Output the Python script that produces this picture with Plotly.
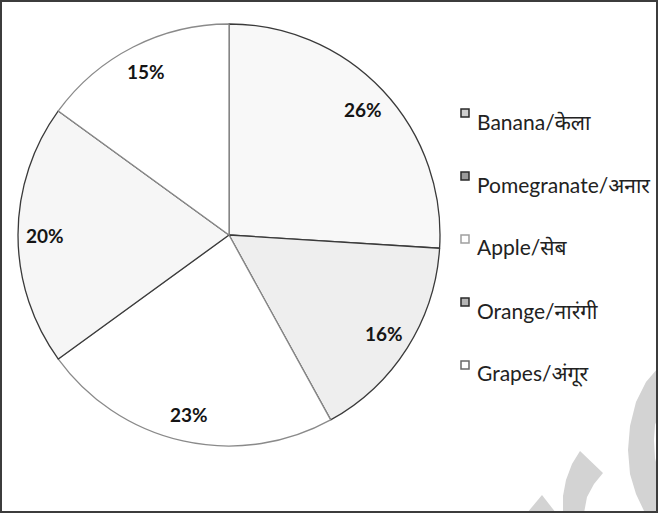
import math
import plotly.graph_objects as go

# Fruit shares, clockwise from 12 o'clock
fruits = ["Banana/केला", "Pomegranate/अनार", "Apple/सेब", "Orange/नारंगी", "Grapes/अंगूर"]
shares = [26, 16, 23, 20, 15]

slice_fill = ["#f8f8f8", "#eeeeee", "#ffffff", "#f6f6f6", "#ffffff"]
slice_edge = ["#3a3a3a", "#3a3a3a", "#8a8a8a", "#3a3a3a", "#8a8a8a"]
swatch_fill = ["#cfcfcf", "#9a9a9a", "#ffffff", "#b5b5b5", "#ffffff"]
swatch_edge = ["#2a2a2a", "#2a2a2a", "#a0a0a0", "#2a2a2a", "#6a6a6a"]

W, H = 658, 513
CX, CY, R = 229, 235, 211  # pie centre and radius in pixels


def px(x):
    return x / W


def py(y):
    return 1 - y / H


fig = go.Figure()
fig.add_trace(go.Pie(
    labels=fruits,
    values=shares,
    sort=False,
    direction="clockwise",
    rotation=0,
    textinfo="none",
    hoverinfo="label+percent",
    showlegend=False,
    marker=dict(colors=slice_fill, line=dict(color=slice_edge, width=1.3)),
    domain=dict(x=[px(CX - R), px(CX + R)], y=[py(CY + R), py(CY - R)]),
))

# Percentage labels placed near the rim at each slice's mid-angle
total = sum(shares)
annotations = []
cum = 0
for v in shares:
    mid = (cum + v / 2) / total * 2 * math.pi
    cum += v
    rr = 0.87 * R
    x = CX + rr * math.sin(mid)
    y = CY - rr * math.cos(mid)
    annotations.append(dict(
        x=px(x), y=py(y), xref="paper", yref="paper", showarrow=False,
        text=f"<b>{round(v / total * 100)}%</b>",
        font=dict(family="Lato, 'Noto Sans', sans-serif", size=19, color="#151515"),
        xanchor="center", yanchor="middle",
    ))

# Legend drawn as swatches plus labels
shapes = []
LEG_X, LEG_Y0, LEG_STEP = 461, 120, 63
for i, name in enumerate(fruits):
    yc = LEG_Y0 + i * LEG_STEP
    shapes.append(dict(
        type="rect", xref="paper", yref="paper",
        x0=px(LEG_X), x1=px(LEG_X + 8), y0=py(yc - 3), y1=py(yc - 11),
        fillcolor=swatch_fill[i], line=dict(color=swatch_edge[i], width=1.5),
    ))
    annotations.append(dict(
        x=px(LEG_X + 14), y=py(yc + 1), xref="paper", yref="paper", showarrow=False,
        text=name, xanchor="left", yanchor="middle",
        font=dict(family="Lato, 'Noto Sans Devanagari', 'Noto Sans', sans-serif",
                  size=21, color="#222222"),
    ))


def poly(points):
    d = "M " + " L ".join(f"{px(x):.5f},{py(y):.5f}" for x, y in points) + " Z"
    return dict(type="path", xref="paper", yref="paper", path=d,
                fillcolor="#d3d3d3", line=dict(width=0), layer="below")


# Faint logo marks in the lower-right corner
shapes.append(poly([(658, 368), (646, 382), (636, 402), (630, 426), (628, 450),
                    (630, 474), (636, 494), (645, 513), (658, 513), (658, 470),
                    (655, 458), (654, 440), (655, 425), (658, 417)]))
shapes.append(poly([(563, 513), (563, 496), (566, 480), (572, 464), (580, 451),
                    (603, 473), (594, 484), (587, 497), (584, 513)]))
shapes.append(poly([(542, 495), (556, 513), (527, 513)]))

# Outer frame
shapes.append(dict(type="rect", xref="paper", yref="paper",
                   x0=px(1), x1=px(W - 1), y0=py(H - 1), y1=py(1),
                   line=dict(color="#3c3c3c", width=2)))

fig.update_layout(
    width=W, height=H,
    margin=dict(l=0, r=0, t=0, b=0),
    paper_bgcolor="white",
    plot_bgcolor="white",
    showlegend=False,
    annotations=annotations,
    shapes=shapes,
)

fig.write_html("out.html")
